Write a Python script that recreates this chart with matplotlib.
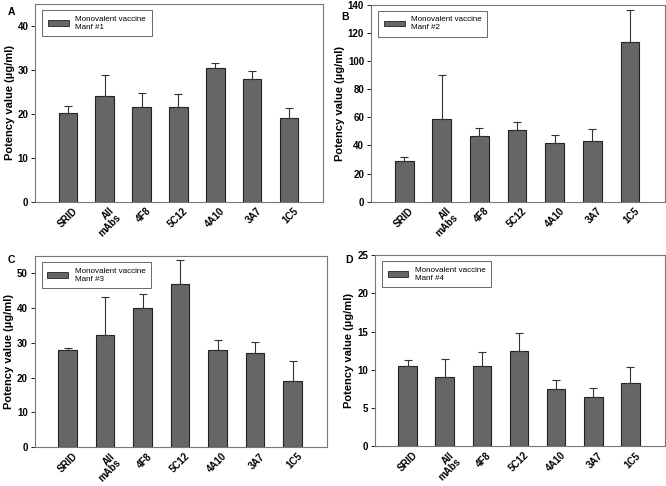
import numpy as np
import matplotlib.pyplot as plt
from matplotlib.patches import Patch

plt.rcParams['font.family'] = ['Liberation Sans', 'DejaVu Sans']

labels = ["SRID", "All\nmAbs", "4F8", "5C12", "4A10", "3A7", "1C5"]

# means and upper error bar tops
mean_a = [20.1, 24.0, 21.5, 21.5, 30.4, 27.8, 19.0]
top_a = [21.7, 28.8, 24.7, 24.5, 31.5, 29.7, 21.4]
mean_b = [29.0, 59.0, 47.0, 51.0, 42.0, 43.0, 113.5]
top_b = [31.5, 90.0, 52.5, 56.5, 47.5, 52.0, 136.0]
mean_c = [28.0, 32.2, 40.0, 47.0, 28.0, 27.0, 19.0]
top_c = [28.5, 43.2, 44.0, 53.8, 30.8, 30.2, 24.8]
mean_d = [10.5, 9.0, 10.5, 12.5, 7.5, 6.4, 8.3]
top_d = [11.3, 11.4, 12.3, 14.8, 8.7, 7.6, 10.4]

panels = [
    ("A", "Manf #1", mean_a, top_a, 45, 10, [0.053, 0.585, 0.432, 0.407], (0.012, 0.985)),
    ("B", "Manf #2", mean_b, top_b, 140, 20, [0.557, 0.585, 0.441, 0.405], (0.512, 0.975)),
    ("C", "Manf #3", mean_c, top_c, 55, 10, [0.052, 0.080, 0.439, 0.393], (0.012, 0.475)),
    ("D", "Manf #4", mean_d, top_d, 25, 5, [0.563, 0.082, 0.435, 0.393], (0.519, 0.475)),
]

fig = plt.figure(figsize=(6.66, 4.86), dpi=100)
x = np.arange(len(labels))
bar_color = "#666666"

for letter, manf, means, tops, ymax, step, pos, lpos in panels:
    ax = fig.add_axes(pos)
    means = np.array(means)
    err = np.array(tops) - means
    ax.bar(x, means, width=0.5, color=bar_color, edgecolor="#222222", linewidth=0.8)
    ax.errorbar(x, means, yerr=[np.zeros_like(err), err], fmt="none",
                ecolor="#333333", elinewidth=0.8, capsize=3, capthick=0.8)
    ax.set_xlim(-0.88, 6.92)
    ax.set_ylim(0, ymax)
    ax.set_yticks(np.arange(0, ymax + 0.01, step))
    ax.set_xticks(x + 0.12)
    ax.set_xticklabels(labels, rotation=45, ha="right", va="top",
                       rotation_mode="anchor", fontsize=7, fontweight="bold",
                       linespacing=0.9)
    ax.tick_params(axis="x", length=0, pad=3)
    ax.tick_params(axis="y", labelsize=7, length=3, width=0.6, pad=2)
    for lab in ax.get_yticklabels():
        lab.set_fontweight("bold")
    for s in ax.spines.values():
        s.set_color("#777777")
        s.set_linewidth(0.8)
    ax.set_ylabel("Potency value (µg/ml)", fontsize=8, fontweight="bold", labelpad=2)
    handle = Patch(facecolor=bar_color, edgecolor="#222222", linewidth=0.6)
    leg = ax.legend([handle], ["Monovalent vaccine\n" + manf], loc="upper left",
                    fontsize=5.8, frameon=True, fancybox=False, borderpad=0.7,
                    handlelength=2.6, handleheight=0.7, bbox_to_anchor=(0.01, 0.99))
    leg.get_frame().set_edgecolor("#222222")
    leg.get_frame().set_linewidth(0.6)
    fig.text(lpos[0], lpos[1], letter, fontsize=7.5,
             fontweight="bold", ha="left", va="top")

fig.savefig("out.png", dpi=100)
